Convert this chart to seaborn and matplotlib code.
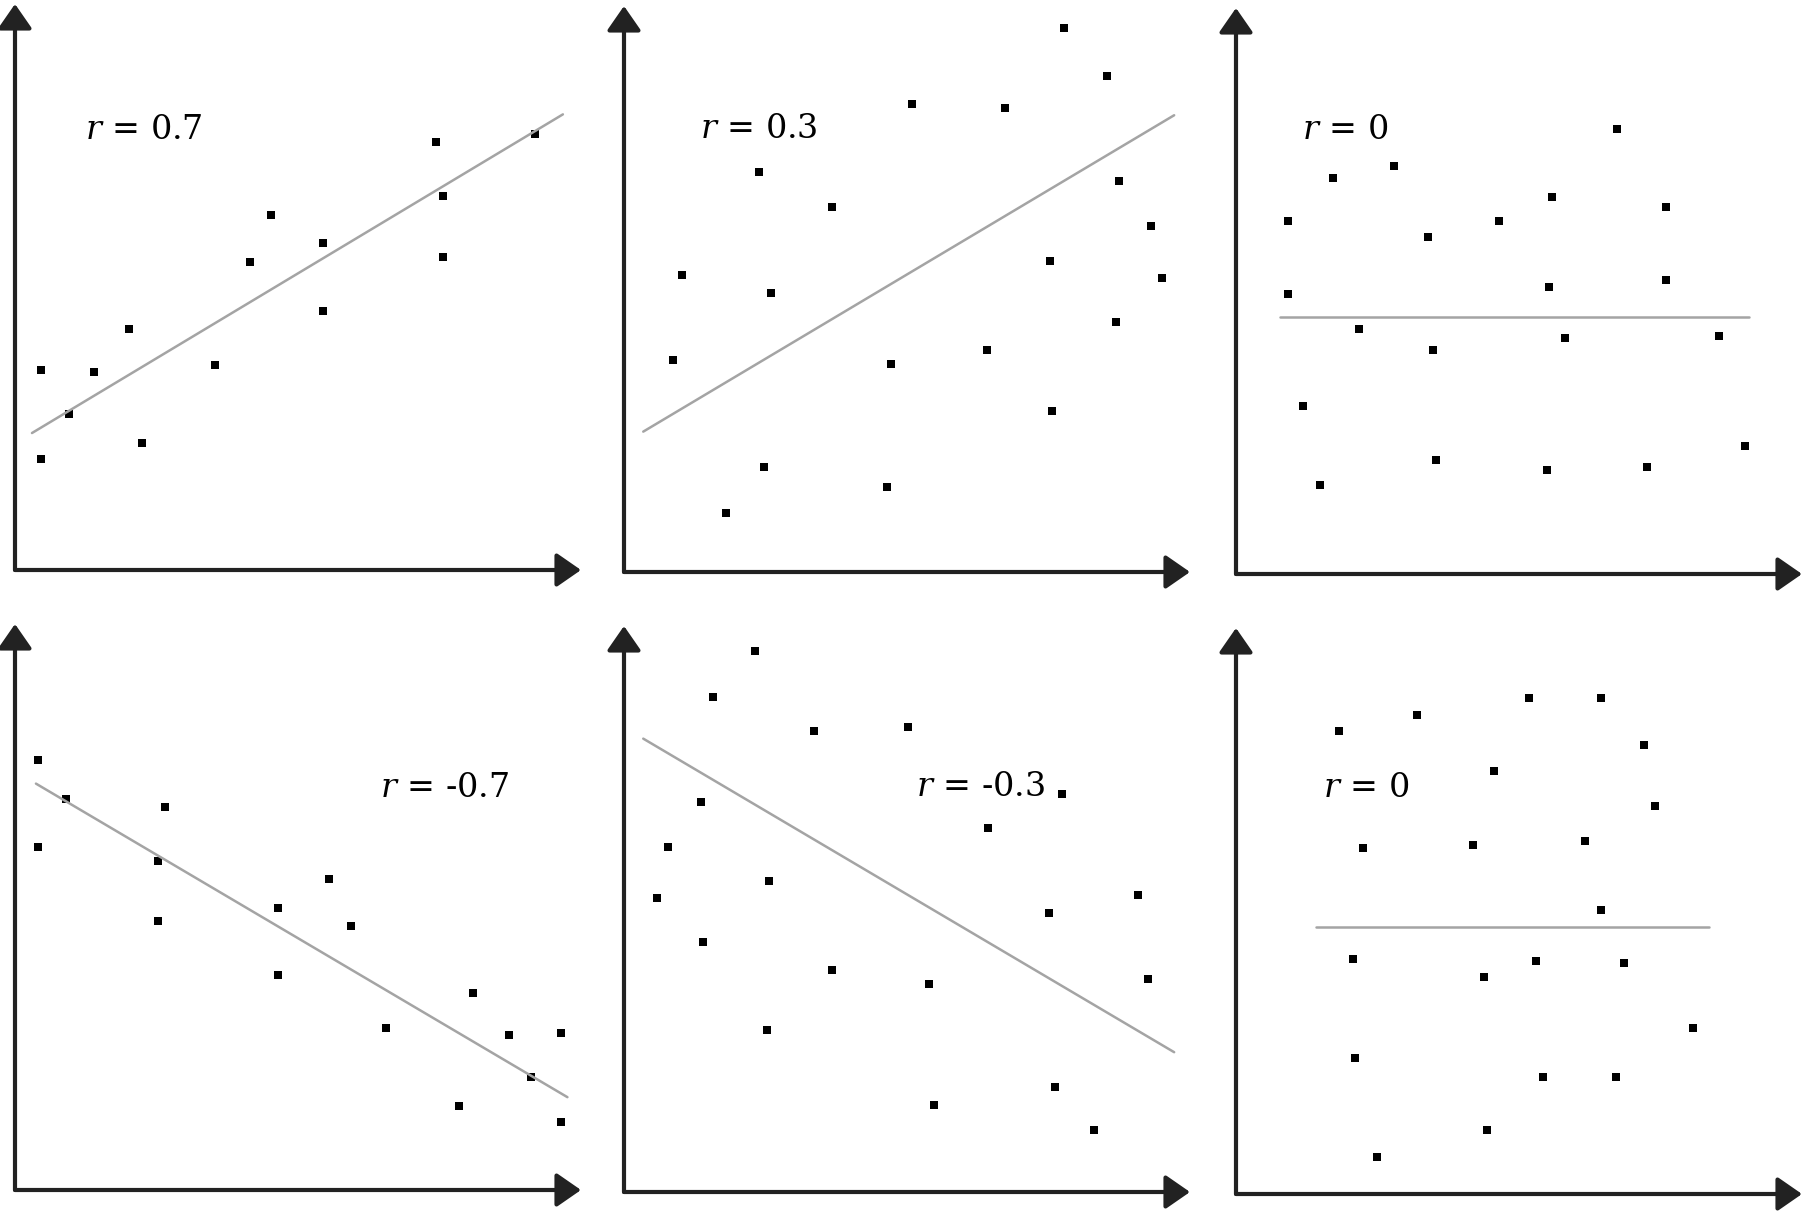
import matplotlib.pyplot as plt
import seaborn as sns
import pandas as pd

# --- dados (unidades do painel, 0..100) ---
labels = ["$r$ = 0.7", "$r$ = 0.3", "$r$ = 0", "$r$ = -0.7", "$r$ = -0.3", "$r$ = 0"]

x_p07 = [4.6, 4.6, 9.6, 13.9, 20.1, 22.5, 35.3, 41.6, 45.3, 54.5, 54.5, 74.4, 75.7, 75.7, 91.9]
y_p07 = [35.4, 19.6, 27.6, 35.0, 42.5, 22.5, 36.2, 54.5, 62.8, 57.8, 45.8, 75.7, 66.1, 55.3, 77.0]
line_x_p07 = [3.0, 96.8]
line_y_p07 = [24.2, 80.5]

x_p03 = [77.8, 85.3, 50.9, 67.4, 23.9, 36.7, 87.4, 93.1, 10.2, 26.0,
         75.3, 95.1, 8.6, 47.2, 64.1, 87.0, 75.7, 24.7, 46.4, 18.1]
y_p03 = [96.1, 87.7, 82.6, 81.9, 70.7, 64.5, 69.1, 61.1, 52.5, 49.3,
         54.9, 52.0, 37.5, 36.7, 39.2, 44.1, 28.4, 18.5, 15.1, 10.5]
line_x_p03 = [3.4, 97.2]
line_y_p03 = [24.8, 80.7]

x_z1 = [67.4, 17.2, 28.0, 55.9, 75.9, 9.1, 46.4, 34.0, 9.1, 55.3, 75.9,
        21.8, 34.8, 58.2, 85.4, 11.8, 14.8, 35.3, 55.0, 72.6, 90.0]
y_z1 = [78.6, 69.9, 72.0, 66.6, 64.9, 62.4, 62.4, 59.5, 49.5, 50.7, 52.0,
        43.3, 39.6, 41.7, 42.0, 29.6, 15.8, 20.1, 18.4, 18.9, 22.6]
line_x_z1 = [7.8, 90.7]
line_y_z1 = [45.4, 45.4]

x_n07 = [4.1, 4.1, 9.0, 26.5, 25.2, 25.2, 46.5, 46.5, 55.5, 59.3, 65.5,
         80.9, 87.2, 96.4, 91.2, 78.4, 96.4]
y_n07 = [76.0, 60.6, 69.0, 67.6, 58.2, 47.5, 49.9, 38.0, 54.9, 46.6, 28.6,
         34.8, 27.4, 27.8, 19.9, 14.9, 12.0]
line_x_n07 = [3.7, 97.6]
line_y_n07 = [71.8, 16.4]

x_n03 = [23.2, 15.7, 33.6, 50.2, 13.6, 7.8, 5.8, 25.7, 64.3, 77.3,
         75.1, 90.9, 14.0, 36.8, 53.9, 92.5, 25.2, 76.2, 54.8, 83.0]
y_n03 = [95.6, 87.4, 81.5, 82.2, 68.9, 61.0, 52.0, 54.9, 64.3, 70.4,
         49.3, 52.4, 44.2, 39.2, 36.8, 37.6, 28.6, 18.6, 15.4, 10.9]
line_x_n03 = [3.4, 97.2]
line_y_n03 = [80.1, 24.7]

x_z2 = [51.7, 64.5, 31.9, 18.2, 72.0, 45.5, 74.1, 22.4, 41.9, 61.7, 64.5,
        20.7, 43.9, 53.0, 68.6, 80.7, 21.1, 54.3, 67.1, 44.3, 24.9]
y_z2 = [87.6, 87.6, 84.7, 81.8, 79.3, 74.8, 68.6, 61.2, 61.7, 62.4, 50.2,
        41.6, 38.3, 41.1, 40.8, 29.3, 24.0, 20.6, 20.6, 11.3, 6.6]
line_x_z2 = [14.1, 83.6]
line_y_z2 = [47.1, 47.1]

panels = [
    (x_p07, y_p07, line_x_p07, line_y_p07),
    (x_p03, y_p03, line_x_p03, line_y_p03),
    (x_z1, y_z1, line_x_z1, line_y_z1),
    (x_n07, y_n07, line_x_n07, line_y_n07),
    (x_n03, y_n03, line_x_n03, line_y_n03),
    (x_z2, y_z2, line_x_z2, line_y_z2),
]

# layout: origem de cada painel em pixels e posição do rótulo
W, H = 1805, 1215
size = 566
origins = [(15, 570), (624, 572), (1236, 574), (15, 1190), (624, 1192), (1236, 1194)]
label_pos = [(12.3, 76.2), (13.4, 76.6), (11.6, 76.9), (64.5, 69.4), (51.6, 69.9), (15.3, 70.1)]

sns.set_style("white")
plt.rcParams["mathtext.fontset"] = "dejavuserif"

fig = plt.figure(figsize=(W / 100, H / 100), dpi=100)

for (xs, ys, lx, ly), (ox, oy), lab, (tx, ty) in zip(panels, origins, labels, label_pos):
    ax = fig.add_axes([ox / W, (H - oy) / H, size / W, size / H])
    df = pd.DataFrame({"x": xs, "y": ys})
    sns.lineplot(x=lx, y=ly, ax=ax, color="#a4a4a4", linewidth=1.8)
    sns.scatterplot(data=df, x="x", y="y", ax=ax, marker="s", s=28,
                    color="black", linewidth=0)
    ax.set_xlim(0, 100)
    ax.set_ylim(0, 100)
    ax.set_axis_off()
    arrow = dict(arrowstyle="-|>,head_length=0.75,head_width=0.52",
                 color="#222222", lw=3, mutation_scale=20,
                 shrinkA=0, shrinkB=0)
    ax.annotate("", xy=(1, 0), xytext=(0, 0), xycoords="axes fraction",
                arrowprops=arrow, annotation_clip=False)
    ax.annotate("", xy=(0, 1), xytext=(0, 0), xycoords="axes fraction",
                arrowprops=arrow, annotation_clip=False)
    ax.text(tx, ty, lab, fontsize=24, family="DejaVu Serif",
            color="black", va="baseline", ha="left")

fig.savefig("out.png", dpi=100)
